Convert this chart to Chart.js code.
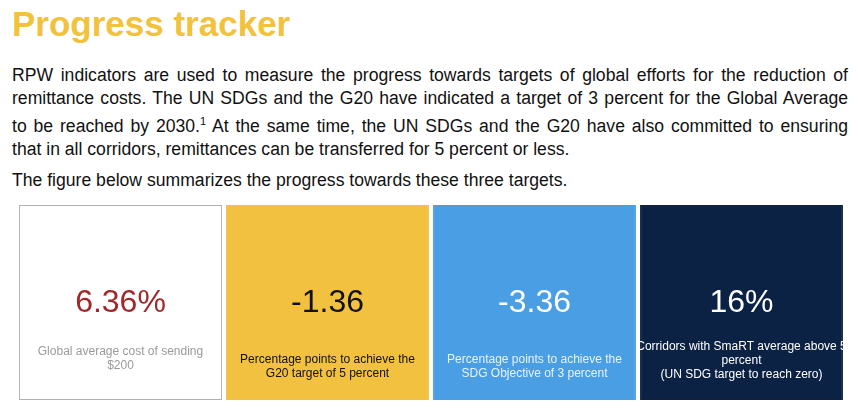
<!DOCTYPE html>
<html>
<head>
<meta charset="utf-8">
<script src="https://cdn.jsdelivr.net/npm/chart.js@4"></script>
<style>
  body { margin: 0; width: 860px; height: 416px; background: #fff; font-family: "Liberation Sans", Arial, sans-serif; overflow: hidden; position: relative; }
  h1 { position: absolute; left: 12px; top: 4px; margin: 0; font-size: 35px; font-weight: bold; color: #F2C23C; }
  .para { position: absolute; left: 12px; width: 836px; top: 64px; font-size: 17.6px; line-height: 23px; color: #111; }
  .j { text-align: justify; text-align-last: justify; }
  .p2 { position: absolute; left: 12px; top: 170px; font-size: 17.6px; color: #111; }
  #wrap { position: absolute; left: 0; top: 200px; width: 860px; height: 216px; }
</style>
</head>
<body>
<h1>Progress tracker</h1>
<div class="para">
  <div class="j">RPW indicators are used to measure the progress towards targets of global efforts for the reduction of</div>
  <div class="j">remittance costs. The UN SDGs and the G20 have indicated a target of 3 percent for the Global Average</div>
  <div class="j">to be reached by 2030.<sup style="font-size:11px">1</sup> At the same time, the UN SDGs and the G20 have also committed to ensuring</div>
  <div>that in all corridors, remittances can be transferred for 5 percent or less.</div>
</div>
<div class="p2">The figure below summarizes the progress towards these three targets.</div>
<div id="wrap"><canvas id="c"></canvas></div>
<script>
const cards = ['global', 'g20', 'sdg', 'corridors'];
const values = ['6.36%', '-1.36', '-3.36', '16%'];
const captions = [
  ['Global average cost of sending', '$200'],
  ['Percentage points to achieve the', 'G20 target of 5 percent'],
  ['Percentage points to achieve the', 'SDG Objective of 3 percent'],
  ['Corridors with SmaRT average above 5', 'percent', '(UN SDG target to reach zero)']
];
const fills = ['#ffffff', '#F2C140', '#4A9FE4', '#0B2244'];
const borders = ['#b0b0b0', '#F2C140', '#4A9FE4', '#0B2244'];
const valueColors = ['#A0282A', '#111111', '#ffffff', '#ffffff'];
const captionColors = ['#9a9a9a', '#111111', '#e8f2fc', '#ffffff'];
const captionTop = [352, 360, 360, 347];

const cardText = {
  id: 'cardText',
  afterDatasetsDraw(chart) {
    const ctx = chart.ctx;
    const top = chart.canvas.getBoundingClientRect().top;
    chart.getDatasetMeta(0).data.forEach((bar, i) => {
      ctx.save();
      ctx.textAlign = 'center';
      ctx.textBaseline = 'middle';
      ctx.fillStyle = valueColors[i];
      ctx.font = '32px "Liberation Sans", Arial, sans-serif';
      ctx.fillText(values[i], bar.x, 303 - 200);
      ctx.fillStyle = captionColors[i];
      ctx.font = '12px "Liberation Sans", Arial, sans-serif';
      captions[i].forEach((line, k) => {
        ctx.fillText(line, bar.x, captionTop[i] - 200 + k * 14);
      });
      ctx.restore();
    });
  }
};

new Chart(document.getElementById('c'), {
  type: 'bar',
  data: {
    labels: cards,
    datasets: [{
      data: cards.map(() => [0, 1]),
      backgroundColor: fills,
      borderColor: borders,
      borderWidth: 1,
      borderSkipped: false,
      barPercentage: 1,
      categoryPercentage: 0.98
    }]
  },
  options: {
    responsive: true,
    maintainAspectRatio: false,
    animation: false,
    layout: { padding: { left: 17, right: 15, top: 5, bottom: 16 } },
    plugins: { legend: { display: false }, tooltip: { enabled: false } },
    scales: {
      x: { display: false },
      y: { display: false, min: 0, max: 1 }
    }
  },
  plugins: [cardText]
});
</script>
</body>
</html>
